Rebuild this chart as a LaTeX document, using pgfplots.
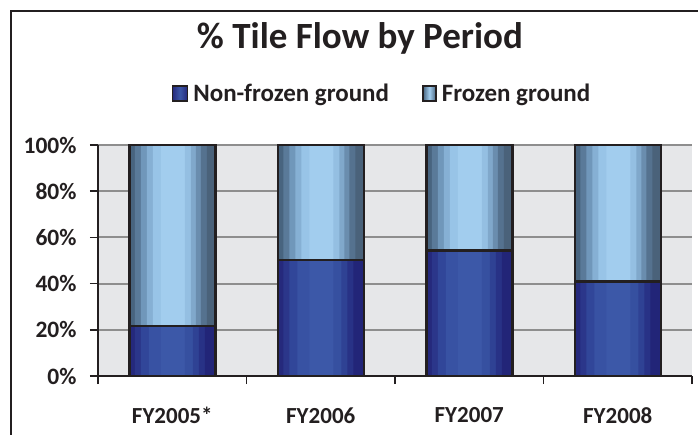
\documentclass[border=0pt]{standalone}
\usepackage{pgfplots}
\usepackage{pgfplotstable}
\pgfplotsset{compat=1.18}
\usepackage{fontspec}
\setmainfont{Carlito}

\definecolor{txt}{HTML}{231F20}
\definecolor{plotbg}{HTML}{E6E7E9}
\definecolor{gridgray}{HTML}{8E8E8E}
\definecolor{fzA}{HTML}{48647F}
\definecolor{fzC}{HTML}{A2CDEE}
\definecolor{nfA}{HTML}{25297C}
\definecolor{nfC}{HTML}{3C58A8}

\pgfplotstableread{
x nonfrozen frozen
0 21.6 100
1 50.2 100
2 54.4 100
3 41.0 100
}\tileflow

% one vertical strip of a bar: column, strip width, shift from bar centre, colour
\newcommand{\strip}[4]{%
  \definecolor{c#4}{HTML}{#4}%
  \addplot[ybar, bar width=#2pt, bar shift=#3pt, fill=c#4, draw=none, forget plot]
    table[x=x, y=#1] {\tileflow};}

\begin{document}
\begin{tikzpicture}
\path[use as bounding box, clip] (0pt,0pt) rectangle (698pt,-435pt);
\draw[line width=2.5pt, txt] (11pt,-445pt) -- (11pt,-11pt) -- (710pt,-11pt);
\begin{axis}[
    at={(98pt,-376pt)}, anchor=south west,
    scale only axis, width=594pt, height=231pt,
    xmin=-0.5, xmax=3.5, ymin=0, ymax=100,
    axis x line*=bottom, axis y line*=left,
    axis line style={txt, line width=2.2pt},
    axis background/.style={fill=plotbg},
    ymajorgrids, major grid style={gridgray, line width=2pt},
    ytick={0,20,...,100},
    yticklabel={\pgfmathprintnumber{\tick}\%},
    xtick={0,1,2,3}, xticklabels={FY2005*,FY2006,FY2007,FY2008},
    minor xtick={-0.5,0.5,1.5,2.5,3.5},
    tick align=outside, major tick length=8pt, minor tick length=8pt,
    major x tick style={draw=none},
    minor x tick style={draw=txt, line width=1.5pt},
    ytick style={draw=txt, line width=1.5pt},
    /pgf/number format/assume math mode=true,
    yticklabel style={font=\fontsize{23.5}{26}\selectfont\bfseries, text=txt, xshift=-10pt},
    xticklabel style={font=\fontsize{23}{26}\selectfont\bfseries, text=txt, yshift=-20pt},
    title={\% Tile Flow by Period},
    title style={at={(0.441,1.39)}, anchor=base, font=\fontsize{37}{40}\selectfont\bfseries, text=txt},
    legend columns=2,
    legend style={at={(0.478,1.221)}, anchor=center, draw=none, fill=none,
        font=\fontsize{25}{28}\selectfont\bfseries, text=txt,
        /tikz/every odd column/.append style={column sep=3pt},
        /tikz/every even column/.append style={column sep=31pt}},
]
% frozen ground: full-height bars (dark edges, light centre)
\strip{frozen}{6.8}{-40}{48647F}
\strip{frozen}{6.8}{-34}{5A7A99}
\strip{frozen}{6.8}{-28}{7097BA}
\strip{frozen}{6.8}{-22}{86B0D4}
\strip{frozen}{8.8}{-15}{98C4E7}
\strip{frozen}{24.8}{1}{A2CDEE}
\strip{frozen}{6.8}{16}{94BFE2}
\strip{frozen}{5.8}{21.5}{80A8CB}
\strip{frozen}{5.8}{26.5}{6A8DAE}
\strip{frozen}{6.8}{32}{55728F}
\strip{frozen}{8.8}{39}{4A627A}
% non-frozen ground share in front
\strip{nonfrozen}{6.8}{-40}{25297C}
\strip{nonfrozen}{6.8}{-34}{2B368A}
\strip{nonfrozen}{8.8}{-27}{314699}
\strip{nonfrozen}{12.8}{-17}{3852A3}
\strip{nonfrozen}{24.8}{1}{3C58A8}
\strip{nonfrozen}{8.8}{17}{3650A0}
\strip{nonfrozen}{6.8}{24}{2F4294}
\strip{nonfrozen}{6.8}{30}{283286}
\strip{nonfrozen}{10.8}{38}{222578}
% outlines
\addplot[ybar, bar width=86pt, bar shift=0pt, fill=none, draw=txt, line width=2.5pt, forget plot]
    table[x=x, y=frozen] {\tileflow};
\addplot[ybar, bar width=86pt, bar shift=0pt, fill=none, draw=txt, line width=2.5pt, forget plot]
    table[x=x, y=nonfrozen] {\tileflow};
\addlegendimage{legend image code/.code={\draw[draw=txt, line width=1.8pt, left color=nfA, right color=nfA, middle color=nfC] (0pt,-7pt) rectangle (15pt,8pt);}}
\addlegendentry{Non-frozen ground}
\addlegendimage{legend image code/.code={\draw[draw=txt, line width=1.8pt, left color=fzA, right color=fzA, middle color=fzC] (0pt,-7pt) rectangle (13pt,8pt);}}
\addlegendentry{Frozen ground}
\end{axis}
\end{tikzpicture}
\end{document}
